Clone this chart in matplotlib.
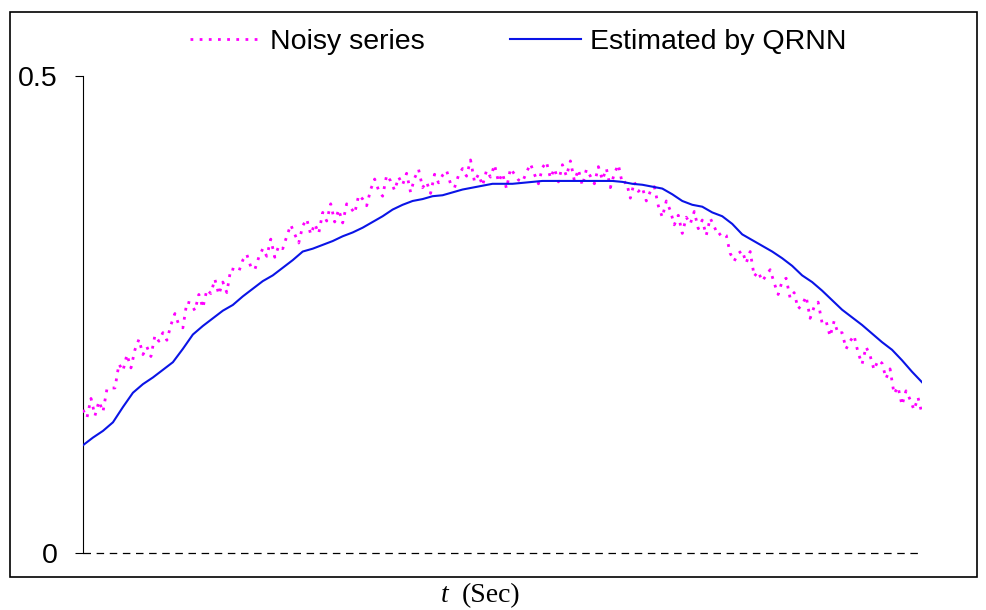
import matplotlib
matplotlib.use("Agg")
import matplotlib.pyplot as plt
import numpy as np
from matplotlib.patches import Rectangle

# Noisy measurement, sampled uniformly over the run
noisy = [
    0.150, 0.142, 0.162, 0.144, 0.159, 0.148, 0.172, 0.173, 0.173, 0.198,
    0.191, 0.208, 0.194, 0.213, 0.224, 0.208, 0.216, 0.206, 0.228, 0.222,
    0.231, 0.223, 0.239, 0.251, 0.239, 0.236, 0.263, 0.262, 0.254, 0.271,
    0.257, 0.276, 0.272, 0.287, 0.271, 0.284, 0.273, 0.298, 0.297, 0.295,
    0.307, 0.313, 0.300, 0.297, 0.310, 0.319, 0.311, 0.329, 0.310, 0.322,
    0.319, 0.332, 0.344, 0.334, 0.325, 0.343, 0.350, 0.334, 0.345, 0.335,
    0.357, 0.348, 0.366, 0.347, 0.360, 0.346, 0.366, 0.362, 0.356, 0.375,
    0.371, 0.364, 0.381, 0.392, 0.380, 0.374, 0.396, 0.390, 0.380, 0.394,
    0.386, 0.398, 0.378, 0.393, 0.402, 0.383, 0.389, 0.377, 0.397, 0.388,
    0.396, 0.401, 0.387, 0.383, 0.396, 0.403, 0.395, 0.412, 0.389, 0.397,
    0.385, 0.401, 0.394, 0.407, 0.389, 0.398, 0.382, 0.403, 0.397, 0.391,
    0.389, 0.399, 0.408, 0.397, 0.387, 0.404, 0.410, 0.393, 0.403, 0.389,
    0.407, 0.395, 0.411, 0.390, 0.402, 0.385, 0.402, 0.395, 0.387, 0.405,
    0.391, 0.403, 0.383, 0.398, 0.407, 0.387, 0.389, 0.372, 0.389, 0.379,
    0.383, 0.369, 0.379, 0.384, 0.364, 0.352, 0.369, 0.359, 0.344, 0.354,
    0.335, 0.352, 0.345, 0.358, 0.340, 0.349, 0.333, 0.351, 0.342, 0.333,
    0.336, 0.333, 0.314, 0.306, 0.314, 0.317, 0.304, 0.316, 0.290, 0.295,
    0.285, 0.291, 0.297, 0.283, 0.271, 0.285, 0.288, 0.267, 0.273, 0.256,
    0.260, 0.269, 0.246, 0.258, 0.263, 0.241, 0.243, 0.227, 0.243, 0.230,
    0.231, 0.214, 0.222, 0.228, 0.210, 0.198, 0.216, 0.207, 0.192, 0.202,
    0.199, 0.183, 0.193, 0.167, 0.174, 0.155, 0.170, 0.161, 0.150, 0.163,
    0.146,
]

# QRNN estimate, on a coarser grid spanning the same interval
qrnn = [
    0.113, 0.121, 0.128, 0.137, 0.153, 0.168, 0.177, 0.184, 0.192, 0.200,
    0.214, 0.229, 0.238, 0.246, 0.254, 0.260, 0.269, 0.277, 0.285, 0.291,
    0.299, 0.307, 0.316, 0.319, 0.323, 0.327, 0.332, 0.336, 0.341, 0.347,
    0.353, 0.360, 0.365, 0.369, 0.371, 0.374, 0.375, 0.378, 0.381, 0.383,
    0.385, 0.387, 0.387, 0.387, 0.388, 0.389, 0.390, 0.390, 0.390, 0.390,
    0.390, 0.390, 0.390, 0.390, 0.389, 0.387, 0.386, 0.384, 0.382, 0.376,
    0.369, 0.365, 0.363, 0.357, 0.353, 0.345, 0.334, 0.328, 0.322, 0.316,
    0.309, 0.301, 0.291, 0.284, 0.275, 0.265, 0.255, 0.247, 0.239, 0.230,
    0.221, 0.213, 0.202, 0.190, 0.179,
]

y_ticks = [0, 0.5]
y_tick_labels = ["0", "0.5"]

W, H = 987, 610
fig = plt.figure(figsize=(W / 100, H / 100), dpi=100)

# outer chart border
fig.patches.append(Rectangle((10 / W, 1 - 577 / H), 967 / W, 565 / H,
                             transform=fig.transFigure, fill=False,
                             edgecolor="black", linewidth=1.2, zorder=0))

ax = fig.add_axes([83 / W, 1 - 553 / H, (922 - 83) / W, (553 - 76) / H])
ax.set_facecolor("none")

t_noisy = np.linspace(0.0, 1.0, len(noisy))
t_qrnn = np.linspace(0.0, 1.0, len(qrnn))

ax.plot(t_noisy, noisy, color="#FF00FF", linewidth=2.0,
        linestyle=(0, (1.0, 2.3)), dash_capstyle="butt",
        label="Noisy series", zorder=3)
ax.plot(t_qrnn, qrnn, color="#0A14E6", linewidth=1.5,
        label="Estimated by QRNN", zorder=4)

# dashed baseline at zero
ax.plot([0, 0.997], [0, 0], color="black", linewidth=0.9,
        linestyle=(0, (6, 4.5)), clip_on=False, zorder=2)

ax.set_xlim(0, 1)
ax.set_ylim(0, 0.5)
for side in ("top", "right", "bottom"):
    ax.spines[side].set_visible(False)
ax.spines["left"].set_linewidth(0.8)
ax.spines["left"].set_color("black")
ax.set_xticks([])
ax.set_yticks(y_ticks)
ax.set_yticklabels(y_tick_labels)
ax.tick_params(axis="y", direction="out", length=6, width=0.8, pad=12,
               labelsize=20.5)
for lab in ax.get_yticklabels():
    lab.set_family("Liberation Sans")

leg = fig.legend(loc="center", bbox_to_anchor=(518 / W, 1 - 42 / H),
                 ncol=2, frameon=False, handlelength=2.5, handletextpad=0.3,
                 columnspacing=3.0, prop={"family": "Liberation Sans", "size": 20.5})

fig.text(441 / W, 1 - 596 / H, "t", fontsize=20, family="Liberation Serif",
         style="italic", ha="left", va="center")
fig.text(462 / W, 1 - 596 / H, "(Sec)", fontsize=20, family="Liberation Serif",
         ha="left", va="center")

fig.savefig("out.png", dpi=100)
